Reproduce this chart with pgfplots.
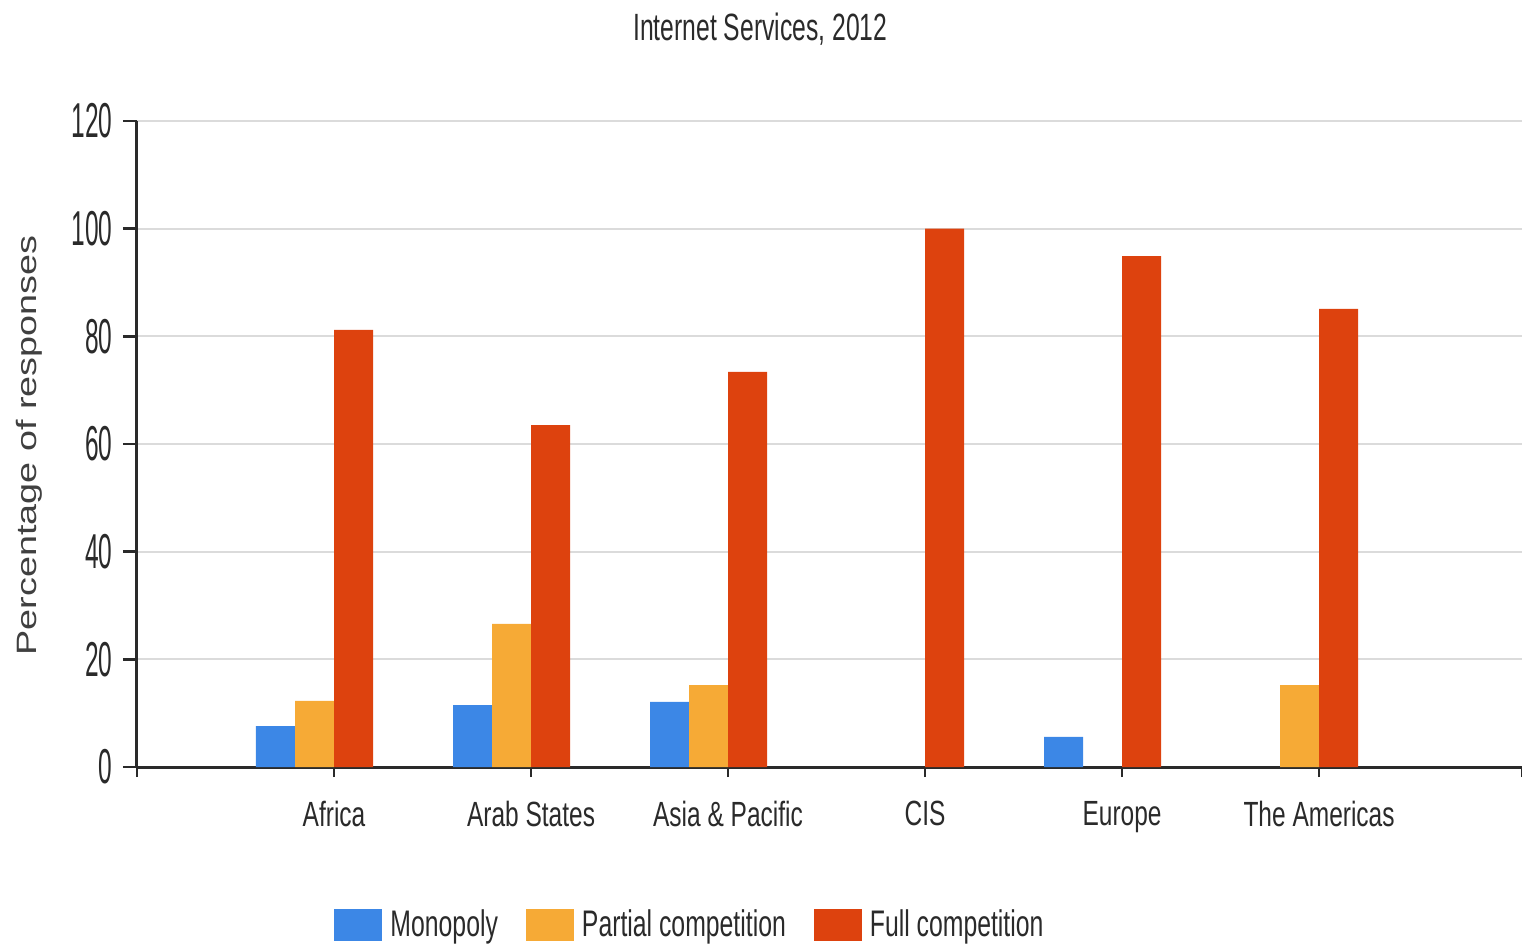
\documentclass[border=0pt]{standalone}
\usepackage{pgfplots}
\pgfplotsset{compat=1.18}
\usepackage{fontspec}
\setmainfont{Liberation Sans}
\newfontfamily\tickfont{Liberation Sans}[FakeStretch=0.5]
\newfontfamily\labfont{Liberation Sans}[FakeStretch=0.7]
\newfontfamily\titlefont{Liberation Sans}[FakeStretch=0.65]
\newfontfamily\legfont{Liberation Sans}[FakeStretch=0.67]
\newfontfamily\ylabfont{Liberation Sans}[FakeStretch=1.35]
\definecolor{cmono}{HTML}{3C87E6}
\definecolor{cpart}{HTML}{F6AA36}
\definecolor{cfull}{HTML}{DD420E}
\definecolor{txt}{HTML}{2A2A2A}
\pgfplotsset{sqleg/.style={legend image code/.code={\fill[##1] (0pt,-8pt) rectangle (24pt,8pt);}}}
\begin{document}
\begin{tikzpicture}
\begin{axis}[
  scale only axis,
  width=692.5pt, height=323pt,
  xmin=0, xmax=7.03,
  ymin=0, ymax=120,
  ytick={0,20,...,120},
  xtick={1,2,3,4,5,6},
  xticklabels={Africa, Arab States, Asia \& Pacific, CIS, Europe, The Americas},
  extra x ticks={0,7.03},
  extra x tick labels={},
  axis x line*=bottom,
  axis y line*=left,
  tick align=outside,
  major tick length=7pt,
  xtick style={/pgfplots/major tick length=5pt},
  every tick/.style={line width=1.2pt, color=txt},
  axis line style={line width=1.5pt, color=txt},
  ymajorgrids,
  grid style={line width=1.1pt, color=black!14},
  /pgf/number format/assume math mode=true,
  yticklabel style={font=\tickfont\fontsize{24.5}{26}\selectfont, color=txt, inner xsep=5pt},
  xticklabel style={font=\labfont\fontsize{17.5}{20}\selectfont, color=txt, yshift=-6.5pt},
  ylabel={Percentage of responses},
  ylabel style={font=\ylabfont\fontsize{14}{16}\selectfont, color=black!75, at={(axis description cs:-0.078,0.498)}, anchor=center},
  title={Internet Services, 2012},
  title style={font=\titlefont\fontsize{19}{22}\selectfont, color=txt, at={(axis description cs:0.45,1)}, anchor=center, yshift=40pt},
  legend columns=3,
  legend style={draw=none, fill=none, at={(axis description cs:0.4,0)}, anchor=center, yshift=-79pt,
    font=\legfont\fontsize{18.5}{21}\selectfont, text=txt,
    /tikz/every odd column/.append style={column sep=2pt},
    /tikz/every even column/.append style={column sep=12pt},
    nodes={inner xsep=2pt}},
  ybar, bar width=0.198,
]
\addplot[ybar, bar shift=-0.297, fill=cmono, draw=none, sqleg] coordinates {(1,7.6) (2,11.5) (3,12.1) (5,5.6)};
\addplot[ybar, bar shift=-0.099, fill=cpart, draw=none, sqleg] coordinates {(1,12.3) (2,26.6) (3,15.2) (6,15.2)};
\addplot[ybar, bar shift=0.099, fill=cfull, draw=none, sqleg] coordinates {(1,81.2) (2,63.5) (3,73.4) (4,100) (5,94.9) (6,85.1)};
\legend{Monopoly, Partial competition, Full competition}
\end{axis}
\pgfresetboundingbox
\path[use as bounding box] (-68.5pt,-90.5pt) rectangle (692.5pt,383.5pt);
\end{tikzpicture}
\end{document}
